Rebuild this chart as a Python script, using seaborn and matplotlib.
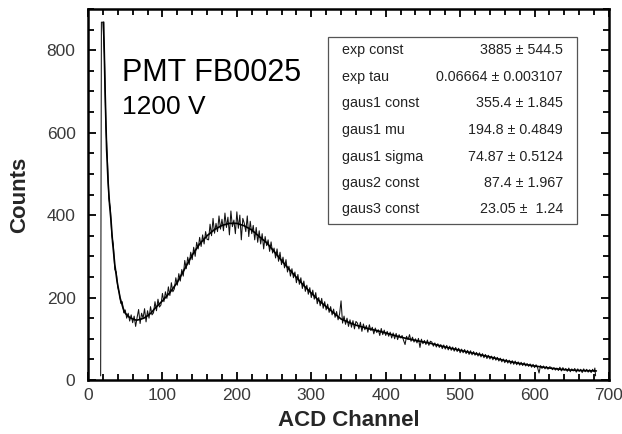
import numpy as np
import pandas as pd
import matplotlib
matplotlib.use("Agg")
import matplotlib.pyplot as plt
import seaborn as sns
from matplotlib.ticker import MultipleLocator

# ---------------- data ----------------
spike_channel = [17, 18, 20]
spike_counts = [10, 868, 868]

data_counts = [
    790, 615, 540, 440, 418, 350, 330, 268, 262, 225,
    212, 186, 190, 163, 170, 150, 162, 143, 158, 139,
    155, 130, 152, 171, 137, 162, 150, 173, 141, 168,
    150, 178, 158, 163, 190, 168, 196, 177, 182, 210,
    190, 214, 198, 226, 205, 236, 214, 221, 248, 230,
    258, 240, 268, 252, 290, 270, 298, 280, 310, 292,
    322, 300, 334, 318, 346, 324, 352, 330, 360, 341,
    340, 378, 350, 392, 356, 380, 360, 398, 366, 390,
    362, 405, 370, 395, 352, 410, 372, 388, 355, 408,
    368, 400, 340, 392, 380, 360, 398, 348, 385, 355,
    375, 340, 370, 334, 362, 330, 355, 318, 348, 326,
    340, 312, 335, 308, 320, 296, 318, 288, 310, 280,
    298, 272, 292, 262, 276, 252, 270, 248, 262, 236,
    256, 232, 248, 222, 240, 215, 230, 208, 224, 200,
    218, 196, 212, 185, 200, 180, 198, 174, 190, 170,
    184, 164, 178, 158, 172, 152, 166, 146, 160, 192,
    138, 155, 135, 150, 130, 146, 128, 144, 124, 142,
    138, 124, 140, 118, 136, 122, 132, 116, 134, 120,
    128, 112, 126, 115, 122, 108, 125, 110, 121, 108,
    118, 106, 116, 102, 114, 100, 113, 98, 110, 102,
    108, 96, 86, 106, 98, 110, 94, 104, 92, 100,
    90, 101, 79, 99, 88, 96, 86, 97, 84, 94,
    92, 82, 90, 80, 88, 79, 86, 76, 85, 75,
    84, 73, 82, 72, 80, 70, 79, 69, 77, 66,
    75, 66, 74, 64, 72, 62, 71, 61, 69, 60,
    67, 58, 66, 56, 64, 54, 62, 52, 60, 51,
    58, 49, 57, 48, 55, 46, 53, 44, 51, 42,
    50, 41, 48, 39, 47, 38, 46, 37, 44, 36,
    43, 35, 42, 34, 40, 33, 39, 31, 38, 30,
    37, 30, 17, 35, 28, 34, 27, 33, 26, 32,
    31, 25, 30, 24, 29, 23, 31, 22, 30, 24,
    28, 21, 29, 20, 27, 22, 28, 19, 27, 21,
    26, 18, 27, 20, 26, 19, 25, 18, 26, 20,
]
data_channel = list(range(22, 681, 2))
tail_channel = [681, 682]
tail_counts = [29, 10]

fit_channel = [21, 23, 25, 27, 29, 31, 33, 36, 39, 43,
               47, 50, 55, 60, 65, 70, 75, 80, 85, 90,
               100, 110, 120, 130, 140, 150, 160, 170, 180, 190,
               200, 210, 220, 230, 240, 250, 260, 270, 280, 290,
               300, 310, 320, 330, 340, 350, 360, 370, 380, 390,
               400, 420, 440, 460, 480, 500, 520, 540, 560, 580,
               600, 620, 640, 660, 683]
fit_counts = [868, 700, 560, 480, 425, 385, 335, 280, 240, 200,
              175, 162, 153, 148, 145, 147, 150, 156, 163, 174,
              192, 212, 237, 270, 303, 330, 350, 365, 375, 380,
              380, 374, 364, 348, 333, 312, 290, 269, 249, 229,
              211, 193, 178, 163, 148, 140, 133, 128, 123, 119,
              114, 104, 96, 89, 80, 72, 64, 56, 47, 40,
              34, 29, 25, 23, 22]

param_names = ["exp const", "exp tau", "gaus1 const", "gaus1 mu",
               "gaus1 sigma", "gaus2 const", "gaus3 const"]
param_values = ["3885 \u00b1 544.5", "0.06664 \u00b1 0.003107", "355.4 \u00b1 1.845",
                "194.8 \u00b1 0.4849", "74.87 \u00b1 0.5124", "87.4 \u00b1 1.967",
                "23.05 \u00b1  1.24"]

title_line1 = "PMT FB0025"
title_line2 = "1200 V"
x_label = "ACD Channel"
y_label = "Counts"

assert len(data_channel) == len(data_counts)
assert len(fit_channel) == len(fit_counts)

# --------------- plot -----------------
sns.set_style("ticks")
plt.rcParams["font.family"] = ["Liberation Sans", "DejaVu Sans"]

data_df = pd.DataFrame({
    "channel": spike_channel + data_channel + tail_channel,
    "counts": spike_counts + data_counts + tail_counts,
})
fit_df = pd.DataFrame({"channel": fit_channel, "counts": fit_counts})

fig = plt.figure(figsize=(6.22, 4.34), dpi=100)
ax = fig.add_axes([88 / 622, 54 / 434, (609 - 88) / 622, (380 - 9) / 434])

sns.lineplot(data=data_df, x="channel", y="counts", ax=ax, color="#111111",
             linewidth=0.75, estimator=None, sort=False)
sns.lineplot(data=fit_df, x="channel", y="counts", ax=ax, color="black",
             linewidth=1.2, estimator=None, sort=True)

ax.set_xlim(0, 700)
ax.set_ylim(0, 900)
ax.xaxis.set_major_locator(MultipleLocator(100))
ax.xaxis.set_minor_locator(MultipleLocator(20))
ax.yaxis.set_major_locator(MultipleLocator(200))
ax.yaxis.set_minor_locator(MultipleLocator(50))
ax.tick_params(which="both", direction="in", top=True, right=True,
               width=1.3, color="black")
ax.tick_params(which="major", length=5.5)
ax.tick_params(which="minor", length=4)
ax.tick_params(axis="x", which="major", labelsize=12.5, labelcolor="#3a3a3a", pad=6)
ax.tick_params(axis="y", which="major", labelsize=12.5, labelcolor="#3a3a3a", pad=9)
for sp in ax.spines.values():
    sp.set_linewidth(1.8)
    sp.set_color("black")

ax.set_xlabel(x_label, fontsize=16, fontweight="bold", labelpad=5)
ax.set_ylabel(y_label, fontsize=16, fontweight="bold", labelpad=12)

ax.text(0.065, 0.806, title_line1, transform=ax.transAxes, fontsize=22,
        ha="left", va="baseline", color="black")
ax.text(0.065, 0.717, title_line2, transform=ax.transAxes, fontsize=19,
        ha="left", va="baseline", color="black")

# parameter box
box_left = (328 - 88) / 521
box_right = (577 - 88) / 521
box_top = (380 - 37) / 371
box_bottom = (380 - 224) / 371
ax.add_patch(plt.Rectangle((box_left, box_bottom), box_right - box_left,
                           box_top - box_bottom, transform=ax.transAxes,
                           fill=True, facecolor="white", edgecolor="#555555",
                           linewidth=0.9, zorder=5))
row_centers_px = [50, 77, 103, 130, 157, 183, 209]
for name, val, ypx in zip(param_names, param_values, row_centers_px):
    yy = (380 - ypx) / 371
    ax.text((342 - 88) / 521, yy, name, transform=ax.transAxes, fontsize=10.3,
            ha="left", va="center", color="#222222", zorder=6)
    ax.text((563 - 88) / 521, yy, val, transform=ax.transAxes, fontsize=10.3,
            ha="right", va="center", color="#222222", zorder=6)

fig.savefig("out.png", dpi=100)
